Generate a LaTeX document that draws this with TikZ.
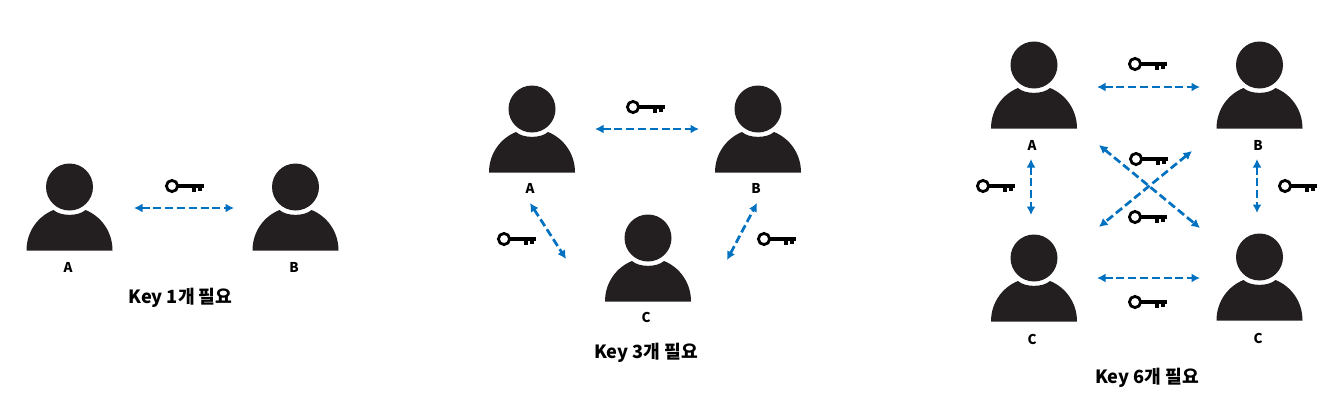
\documentclass[tikz,border=0pt]{standalone}
\usepackage{fontspec}
\setmainfont{Noto Sans CJK KR}
\usetikzlibrary{arrows.meta}
\definecolor{ink}{HTML}{231F20}
\definecolor{link}{HTML}{0070C0}
\tikzset{
  x=1pt,y=-1pt,
  person/.pic={
    \fill[ink] (0,0) circle[radius=23.5];
    \fill[ink] (-43,63.5) .. controls (-43,44) and (-31,29) .. (-16,23)
      .. controls (-9,29.5) and (9,29.5) .. (16,23)
      .. controls (31,29) and (43,44) .. (43,63.5) -- cycle;
    \coordinate (-head) at (0,0);
  },
  key/.pic={
    \draw[black,line width=2.8] (0,0) circle[radius=5.6];
    \fill[black] (5.5,-1.8) rectangle (32,1.6);
    \fill[black] (20,0) rectangle (24,6);
    \fill[black] (26,0) rectangle (29.8,5);
  },
  link/.style={draw=link,line width=2.7,dash pattern=on 8pt off 3.8pt,
    {Latex[length=8.5pt,width=9pt]}-{Latex[length=8.5pt,width=9pt]}},
  who/.style={text=black,font=\fontsize{13.5}{15}\bfseries,inner sep=0},
  caption/.style={font=\fontsize{18.2}{20}\bfseries,text=black,inner sep=0},
}
\begin{document}
\begin{tikzpicture}
\useasboundingbox (0,0) rectangle (1337,412);
% ---- set 1
\pic (a1) at (69.5,187) {person};
\pic (b1) at (295.5,187) {person};
\node[who] (la1) at (68,267) {A};
\node[who] (lb1) at (294,267) {B};
\node[caption] (cap1) at (180.5,297.5) {Key 1개 필요};
\pic (k1) at (172,186) {key};
\coordinate (p1) at (134,208); \coordinate (q1) at (234,208);
\draw[link] (p1) -- (q1);
% ---- set 2
\pic (a2) at (532,109) {person};
\pic (b2) at (758,109) {person};
\pic (c2) at (648,238) {person};
\node[who] (la2) at (530,188) {A};
\node[who] (lb2) at (756,188) {B};
\node[who] (lc2) at (646,317) {C};
\node[caption] (cap2) at (646,352.5) {Key 3개 필요};
\pic (k2a) at (633,107) {key};
\pic (k2b) at (504,239) {key};
\pic (k2c) at (764,239) {key};
\coordinate (p2a) at (595,129); \coordinate (q2a) at (699,129);
\coordinate (p2b) at (530,203); \coordinate (q2b) at (566,259);
\coordinate (p2c) at (727,260); \coordinate (q2c) at (757,203);
\draw[link] (p2a) -- (q2a);
\draw[link] (p2b) -- (q2b);
\draw[link] (p2c) -- (q2c);
% ---- set 3
\pic (a3) at (1034,65) {person};
\pic (b3) at (1259.5,65) {person};
\pic (c3) at (1034,258) {person};
\pic (d3) at (1259.5,257) {person};
\node[who] (la3) at (1032,145) {A};
\node[who] (lb3) at (1258,145) {B};
\node[who] (lc3) at (1032,339) {C};
\node[who] (ld3) at (1258,338) {C};
\node[caption] (cap3) at (1147,377.5) {Key 6개 필요};
\pic (k3a) at (1135,64) {key};
\pic (k3b) at (1136,159) {key};
\pic (k3c) at (1135,217) {key};
\pic (k3d) at (983,186) {key};
\pic (k3e) at (1285,186) {key};
\pic (k3f) at (1135,302) {key};
\coordinate (p3a) at (1097,87); \coordinate (q3a) at (1200,87);
\coordinate (p3b) at (1097,278); \coordinate (q3b) at (1200,278);
\coordinate (p3c) at (1031,159); \coordinate (q3c) at (1031,215);
\coordinate (p3d) at (1257,159); \coordinate (q3d) at (1257,213);
\coordinate (p3e) at (1099,145); \coordinate (q3e) at (1200,228);
\coordinate (p3f) at (1192,151); \coordinate (q3f) at (1099,227);
\draw[link] (p3a) -- (q3a);
\draw[link] (p3b) -- (q3b);
\draw[link] (p3c) -- (q3c);
\draw[link] (p3d) -- (q3d);
\draw[link] (p3e) -- (q3e);
\draw[link] (p3f) -- (q3f);
\end{tikzpicture}
\end{document}
